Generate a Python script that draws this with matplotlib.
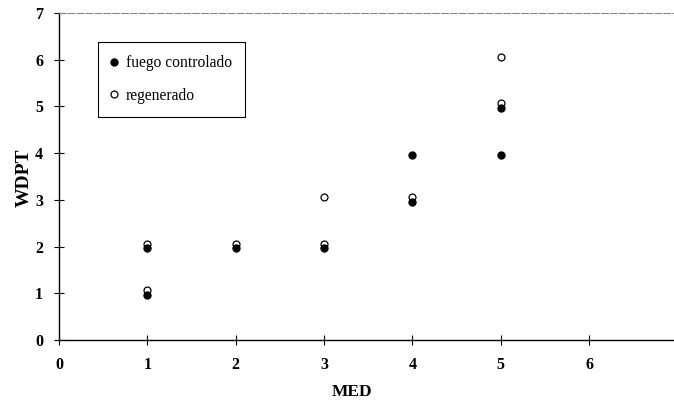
import matplotlib.pyplot as plt
from matplotlib.transforms import ScaledTranslation

# datos
med_fuego = [1, 1, 2, 3, 4, 4, 5, 5]
wdpt_fuego = [1, 2, 2, 2, 3, 4, 4, 5]
med_regen = [1, 1, 2, 3, 3, 4, 5, 5]
wdpt_regen = [1, 2, 2, 2, 3, 3, 5, 6]
xticks = [0, 1, 2, 3, 4, 5, 6]
yticks = [0, 1, 2, 3, 4, 5, 6, 7]

plt.rcParams['font.family'] = ['Liberation Serif', 'DejaVu Serif']

fig = plt.figure(figsize=(6.74, 4.03), dpi=100)
ax = fig.add_axes([59 / 674, 1 - 340 / 403, 614 / 674, 327 / 403])

# los puntos del original estan un poco desplazados para que no se tapen
down = ax.transData + ScaledTranslation(0, -1.2 / 72, fig.dpi_scale_trans)
up = ax.transData + ScaledTranslation(0, 2.2 / 72, fig.dpi_scale_trans)

ax.plot(med_regen, wdpt_regen, 'o', ms=5, mfc='white', mec='black', mew=0.9,
        transform=up, label='regenerado', zorder=3)
ax.plot(med_fuego, wdpt_fuego, 'o', ms=5, color='black', transform=down,
        label='fuego controlado', zorder=4)

ax.set_xlim(0, 6.95)
ax.set_ylim(0, 7)
ax.set_xticks(xticks)
ax.set_yticks(yticks)
ax.tick_params(direction='inout', length=7, width=0.8, labelsize=11.5)
ax.tick_params(axis='x', pad=9)
ax.tick_params(axis='y', pad=8)
for lab in ax.get_xticklabels() + ax.get_yticklabels():
    lab.set_fontweight('bold')

ax.spines['right'].set_visible(False)
ax.spines['top'].set_color('#888888')
ax.spines['top'].set_linewidth(0.8)
ax.spines['top'].set_linestyle((0, (6, 2)))
ax.spines['left'].set_linewidth(1.0)
ax.spines['bottom'].set_linewidth(1.0)

ax.set_xlabel('MED', fontsize=12.5, fontweight='bold')
ax.set_ylabel('WDPT', fontsize=14, fontweight='bold')
ax.xaxis.set_label_coords((352 - 59) / 614, -(392 - 340) / 327)
ax.yaxis.set_label_coords(-(59 - 24) / 614, (340 - 178) / 327)
ax.xaxis.label.set_va('center')
ax.yaxis.label.set_va('center')

handles, labels = ax.get_legend_handles_labels()
leg = ax.legend(handles[::-1], labels[::-1], loc='upper left',
                bbox_to_anchor=(98 / 674, 1 - 42 / 403), bbox_transform=fig.transFigure,
                fontsize=11.2, frameon=True, fancybox=False, edgecolor='black',
                framealpha=1, borderpad=0.85, labelspacing=1.05, handlelength=0.3,
                handletextpad=0.65, borderaxespad=0)
leg.get_frame().set_linewidth(0.8)

fig.savefig('out.png', dpi=100)
